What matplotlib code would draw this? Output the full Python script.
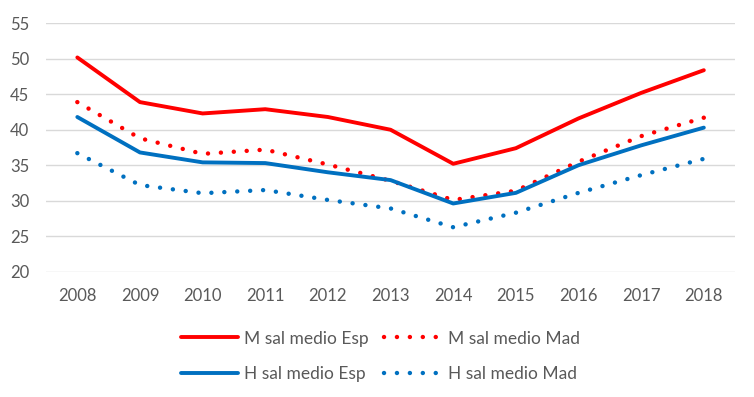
import matplotlib.pyplot as plt

plt.rcParams['font.family'] = ['Lato', 'DejaVu Sans']

years = ['2008', '2009', '2010', '2011', '2012', '2013', '2014', '2015', '2016', '2017', '2018']
m_esp = [50.2, 43.9, 42.3, 42.9, 41.8, 40.0, 35.2, 37.4, 41.6, 45.2, 48.4]
m_mad = [43.9, 38.8, 36.6, 37.2, 35.1, 32.8, 30.1, 31.4, 35.5, 39.1, 41.7]
h_esp = [41.8, 36.8, 35.4, 35.3, 34.0, 32.9, 29.6, 31.1, 35.0, 37.8, 40.3]
h_mad = [36.7, 32.2, 31.05, 31.5, 30.1, 28.9, 26.25, 28.3, 31.1, 33.6, 35.9]

RED = '#ff0000'
BLUE = '#0070c0'
GREY = '#595959'
DOTS = (0, (0.01, 2.9))


def main() -> None:
  fig = plt.figure(figsize=(7.54, 3.97), dpi=100)
  ax = fig.add_axes([0.061, 0.316, 0.914, 0.625])
  x = range(len(years))

  l1, = ax.plot(x, m_esp, color=RED, lw=2.8, solid_capstyle='round', label='M sal medio Esp')
  l2, = ax.plot(x, m_mad, color=RED, lw=3.2, ls=DOTS, dash_capstyle='round', label='M sal medio Mad')
  l3, = ax.plot(x, h_esp, color=BLUE, lw=2.8, solid_capstyle='round', label='H sal medio Esp')
  l4, = ax.plot(x, h_mad, color=BLUE, lw=3.2, ls=DOTS, dash_capstyle='round', label='H sal medio Mad')

  ax.set_xlim(-0.5, len(years) - 0.5)
  ax.set_ylim(20, 55)
  ax.set_yticks(range(20, 56, 5))
  ax.set_xticks(list(x))
  ax.set_xticklabels(years)
  ax.grid(axis='y', color='#d9d9d9', lw=1.0)
  ax.set_axisbelow(True)
  for s in ax.spines.values():
    s.set_visible(False)
  ax.tick_params(length=0, labelsize=12, labelcolor=GREY)
  ax.tick_params(axis='x', pad=12)
  ax.tick_params(axis='y', pad=12)

  fig.legend(handles=[l1, l3, l2, l4], ncol=2, loc='center',
             bbox_to_anchor=(0.504, 0.103), frameon=False,
             fontsize=12.5, labelcolor=GREY, handlelength=3.3,
             handletextpad=0.35, columnspacing=0.9, labelspacing=1.1)

  fig.savefig('out.png', dpi=100)


if __name__ == '__main__':
  main()
